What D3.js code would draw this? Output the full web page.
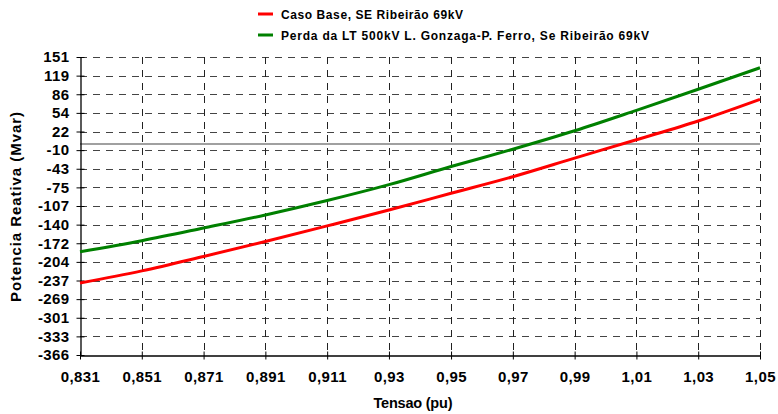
<!DOCTYPE html>
<html>
<head>
<meta charset="utf-8">
<script src="https://cdn.jsdelivr.net/npm/d3@7"></script>
<style>
  html, body { margin: 0; padding: 0; background: #fff; }
  svg { display: block; }
  text { font-family: "Liberation Sans", Arial, sans-serif; font-weight: bold; fill: #000; }
</style>
</head>
<body>
<svg id="chart" width="778" height="414"></svg>
<script>
// ---- data ----
const xTickLabels = ["0,831","0,851","0,871","0,891","0,911","0,93","0,95","0,97","0,99","1,01","1,03","1,05"];
const xValues = [0.831, 0.8509, 0.8708, 0.8907, 0.9106, 0.9305, 0.9505, 0.9704, 0.9903, 1.0102, 1.0301, 1.05];
const yTickLabels = ["151","119","86","54","22","-10","-43","-75","-107","-140","-172","-204","-237","-269","-301","-333","-366"];
const casoBase = [-241, -220, -195, -169, -142, -114.5, -85.5, -56.7, -24.5, 7.5, 40, 77.6];
const perdaLT  = [-187, -167.7, -145.7, -123, -98, -70.5, -39, -9, 23, 58.5, 95, 132.4];
const seriesNames = ["Caso Base, SE Ribeirão 69kV", "Perda da LT 500kV L. Gonzaga-P. Ferro, Se Ribeirão 69kV"];
const seriesColors = ["#ff0000", "#008000"];

// ---- layout ----
const svg = d3.select("#chart");
const pLeft = 80, pRight = 760, pTop = 57, pBottom = 355;
const yMin = -366, yMax = 151;

const x = d3.scaleLinear().domain([xValues[0], xValues[xValues.length - 1]]).range([pLeft, pRight]);
const y = d3.scaleLinear().domain([yMin, yMax]).range([pBottom, pTop]);

const yTickVals = yTickLabels.map((d, i) => yMax - i * (yMax - yMin) / (yTickLabels.length - 1));

// grid
const grid = svg.append("g");
grid.selectAll("line.h").data(yTickVals.slice(0, -1)).enter().append("line")
  .attr("x1", pLeft).attr("x2", pRight)
  .attr("y1", d => Math.round(y(d)) + 0.5).attr("y2", d => Math.round(y(d)) + 0.5)
  .attr("stroke", "#444").attr("stroke-width", 1).attr("stroke-dasharray", "7,6");
grid.selectAll("line.v").data(xValues.slice(1)).enter().append("line")
  .attr("y1", pTop).attr("y2", pBottom)
  .attr("x1", d => Math.round(x(d)) + 0.5).attr("x2", d => Math.round(x(d)) + 0.5)
  .attr("stroke", "#222").attr("stroke-width", 1).attr("stroke-dasharray", "7,6");

// zero line
svg.append("line")
  .attr("x1", pLeft).attr("x2", pRight)
  .attr("y1", y(0)).attr("y2", y(0))
  .attr("stroke", "#808080").attr("stroke-width", 1.6);

// axes
const yAxis = d3.axisLeft(y).tickValues(yTickVals).tickFormat((d, i) => yTickLabels[i])
  .tickSizeInner(4).tickSizeOuter(0).tickPadding(8);
const gy = svg.append("g").attr("transform", `translate(${pLeft + 0.5},0)`).call(yAxis);
gy.selectAll(".tick line").attr("x2", -4).attr("x1", 4).attr("stroke", "#000");
gy.select(".domain").attr("stroke", "#000").attr("stroke-width", 1.3);
gy.selectAll("text").style("font-size", "15px").style("letter-spacing", "0.4px")
  .style("font-family", "'Liberation Sans', Arial, sans-serif").style("font-weight", "bold")
  .attr("x", -11);

const xAxis = d3.axisBottom(x).tickValues(xValues).tickFormat((d, i) => xTickLabels[i])
  .tickSizeInner(4).tickSizeOuter(0).tickPadding(12);
const gx = svg.append("g").attr("transform", `translate(0,${pBottom + 0.5})`).call(xAxis);
gx.selectAll(".tick line").attr("y1", -4).attr("y2", 4).attr("stroke", "#000");
gx.select(".domain").attr("stroke", "#000").attr("stroke-width", 1.3);
gx.selectAll("text").style("font-size", "15px").style("letter-spacing", "0.4px")
  .style("font-family", "'Liberation Sans', Arial, sans-serif").style("font-weight", "bold");

// lines
const line = d3.line().x((d, i) => x(xValues[i])).y(d => y(d)).curve(d3.curveMonotoneX);
[casoBase, perdaLT].forEach((s, k) => {
  svg.append("path").datum(s)
    .attr("fill", "none").attr("stroke", seriesColors[k]).attr("stroke-width", 3)
    .attr("d", line);
});

// axis titles
svg.append("text").attr("x", 413).attr("y", 408).attr("text-anchor", "middle")
  .style("font-size", "14.5px").attr("textLength", 79).attr("lengthAdjust", "spacing")
  .text("Tensao (pu)");
svg.append("text").attr("transform", "translate(21,207) rotate(-90)").attr("text-anchor", "middle")
  .style("font-size", "15px").attr("textLength", 190).attr("lengthAdjust", "spacing")
  .text("Potencia Reativa (Mvar)");

// legend
const legendY = [14, 35];
const legendW = [182, 368];
seriesNames.forEach((n, k) => {
  svg.append("line").attr("x1", 258).attr("x2", 273)
    .attr("y1", legendY[k]).attr("y2", legendY[k])
    .attr("stroke", seriesColors[k]).attr("stroke-width", 3);
  svg.append("text").attr("x", 281).attr("y", legendY[k] + 4.5)
    .style("font-size", "12px").attr("textLength", legendW[k]).attr("lengthAdjust", "spacing")
    .text(n);
});
</script>
</body>
</html>
